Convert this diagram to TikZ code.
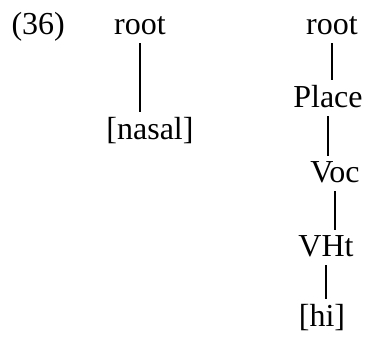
\documentclass[tikz,border=0pt]{standalone}
\usepackage{fontspec}
\setmainfont{Liberation Serif}
\usepackage{tikz}

\tikzset{
  feat/.style={anchor=base, inner sep=3pt},
  assoc/.style={thick, shorten >=-0.8pt}
}

\begin{document}
\begin{tikzpicture}[x=0.4pt, y=0.4pt, font=\fontsize{12.8}{15}\selectfont]
	%Rahmen
	\useasboundingbox (0,0) rectangle (369,337);
	% Beispielnummer
	\node[anchor=base west, inner sep=0pt] (ex) at (11,302) {(36)};
	% linker Baum
	\node[feat] (rootA) at (140,302) {root};
	\node[feat] (nasal) at (150,197) {[nasal]};
	\draw[assoc] (rootA.south) -- (rootA.south |- nasal.north);
	% rechter Baum
	\node[feat] (rootB) at (332,302) {root};
	\node[feat] (place) at (328,229) {Place};
	\node[feat] (voc) at (335,154) {Voc};
	\node[feat] (vht) at (326,80) {VHt};
	\node[feat] (hi) at (322,10) {[hi]};
	\draw[assoc] (rootB.south) -- (rootB.south |- place.north);
	\draw[assoc] (place.south) -- (place.south |- voc.north);
	\draw[assoc] (voc.south) -- (voc.south |- vht.north);
	\draw[assoc] (vht.south) -- (vht.south |- hi.north);
\end{tikzpicture}
\end{document}
